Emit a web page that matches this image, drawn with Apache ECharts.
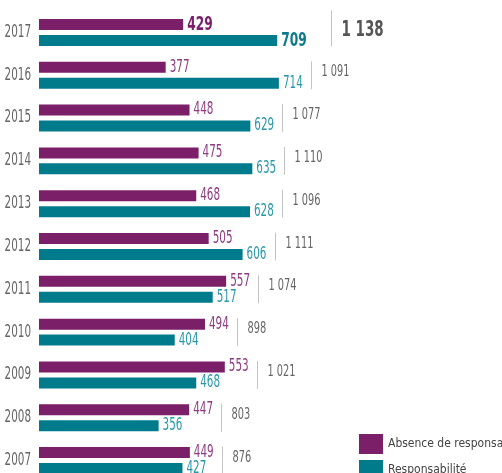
<!DOCTYPE html>
<html>
<head>
<meta charset="utf-8">
<script src="https://cdn.jsdelivr.net/npm/echarts@6/dist/echarts.min.js"></script>
<style>
  html, body { margin: 0; padding: 0; background: #fff; }
  #chart { width: 502px; height: 473px; }
</style>
</head>
<body>
<div id="chart"></div>
<script>
const years = ['2017', '2016', '2015', '2014', '2013', '2012', '2011', '2010', '2009', '2008', '2007'];
const absence = [429, 377, 448, 475, 468, 505, 557, 494, 553, 447, 449];
const responsabilite = [709, 714, 629, 635, 628, 606, 517, 404, 468, 356, 427];
const totals = [1138, 1091, 1077, 1110, 1096, 1111, 1074, 898, 1021, 803, 876];

const FONT = '"DejaVu Sans Condensed", "DejaVu Sans", sans-serif';
const PURPLE = '#7b1f69';
const TEAL = '#007b8c';
const SQUEEZE = 0.68;

function fmt(n) {
    const s = String(n);
    return s.length > 3 ? s.slice(0, s.length - 3) + ' ' + s.slice(-3) : s;
}

// narrow text, scaled around its anchor point
function narrowText(x, y, text, color, size, bold, align) {
    return {
        type: 'text',
        x: x,
        y: y,
        scaleX: SQUEEZE,
        style: {
            text: text,
            fill: color,
            fontSize: size,
            fontWeight: bold ? 'bold' : 'normal',
            fontFamily: FONT,
            align: align || 'left',
            verticalAlign: 'middle'
        }
    };
}

const labelData = years.map((y, i) => [absence[i], responsabilite[i], y, totals[i]]);

const chart = echarts.init(document.getElementById('chart'));

const option = {
    animation: false,
    textStyle: { fontFamily: FONT },
    grid: { left: 39, right: 0, top: 11, bottom: -9, outerBoundsMode: 'none', containLabel: false },
    xAxis: {
        type: 'value',
        min: 0,
        max: 1378,
        show: false
    },
    yAxis: {
        type: 'category',
        data: years,
        inverse: true,
        axisLine: { show: false },
        axisTick: { show: false },
        axisLabel: { show: false }
    },
    legend: [
        {
            left: 354,
            top: 429,
            itemWidth: 24,
            itemHeight: 20,
            itemGap: 6,
            icon: 'rect',
            textStyle: { color: '#444', fontSize: 12, fontFamily: FONT },
            data: ['Absence de responsabilité']
        },
        {
            left: 354,
            top: 455,
            itemWidth: 24,
            itemHeight: 20,
            itemGap: 6,
            icon: 'rect',
            textStyle: { color: '#444', fontSize: 12, fontFamily: FONT },
            data: ['Responsabilité']
        }
    ],
    series: [
        {
            name: 'Absence de responsabilité',
            type: 'bar',
            barWidth: 11,
            barGap: '45%',
            itemStyle: { color: PURPLE },
            data: absence
        },
        {
            name: 'Responsabilité',
            type: 'bar',
            barWidth: 11,
            itemStyle: { color: TEAL },
            data: responsabilite
        },
        {
            name: 'labels',
            type: 'custom',
            encode: { x: 1, y: 2 },
            silent: true,
            renderItem: function(params, api) {
                const a = api.value(0);
                const r = api.value(1);
                const cat = api.value(2);
                const first = params.dataIndex === 0;
                const pa = api.coord([a, cat]);
                const pr = api.coord([r, cat]);
                const p0 = api.coord([0, cat]);
                const pm = api.coord([Math.max(a, r), cat]);
                const cy = p0[1];
                const lx = Math.round(pm[0] + (first ? 54 : 32)) + 0.5;
                const vs = first ? 20 : 17;
                return {
                    type: 'group',
                    children: [
                        narrowText(p0[0] - 8, cy, years[params.dataIndex], '#666', 17, false, 'right'),
                        narrowText(pa[0] + 4, cy - 8, String(a), first ? '#7b1f69' : '#8e3b82', vs, first),
                        narrowText(pr[0] + 4, cy + 8, String(r), first ? '#0d7b8c' : '#2a98a9', vs, first),
                        {
                            type: 'line',
                            shape: { x1: lx, y1: cy - (first ? 22 : 14), x2: lx, y2: cy + 14 },
                            style: { stroke: '#c4c4c4', lineWidth: 1 }
                        },
                        narrowText(lx + 10, cy - (first ? 2 : 3), fmt(totals[params.dataIndex]),
                            first ? '#555' : '#666', first ? 22 : 16, first)
                    ]
                };
            },
            data: labelData
        }
    ]
};

chart.setOption(option);
</script>
</body>
</html>
